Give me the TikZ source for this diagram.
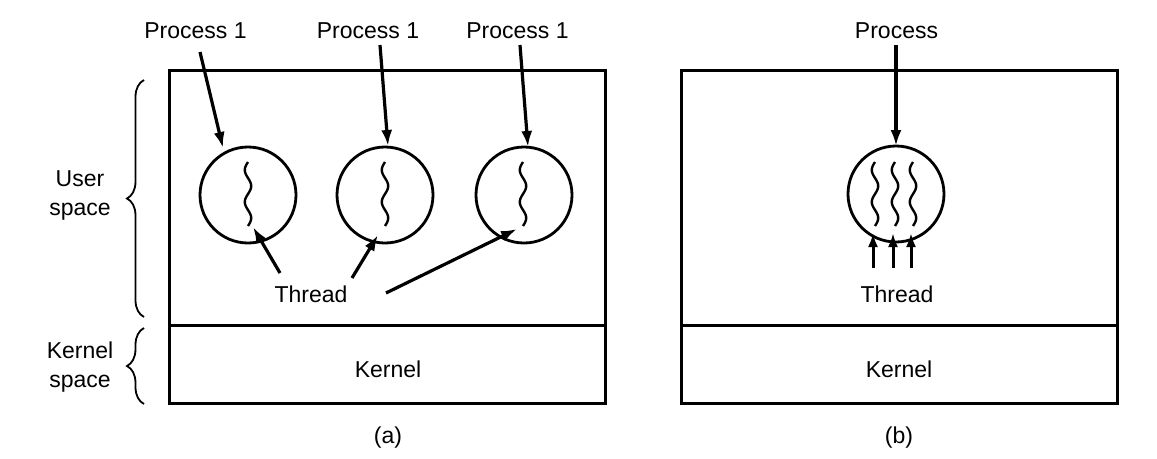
\documentclass[tikz,border=0pt]{standalone}
\usepackage{fontspec}
\setmainfont{Liberation Sans}
\usetikzlibrary{arrows.meta,decorations.pathreplacing}
\tikzset{
  box/.style={draw, line width=3pt},
  proc/.style={draw, circle, line width=2.8pt, minimum size=96pt, inner sep=0pt},
  lbl/.style={font=\fontsize{23}{27}\selectfont, inner sep=0pt, anchor=base},
  arr/.style={line width=3.2pt, -{Latex[length=16pt,width=11pt]}},
  uparr/.style={line width=3pt, -{Latex[length=14pt,width=10pt]}},
  thr/.style={line width=2.4pt},
  brc/.style={decorate, decoration={brace, amplitude=17pt}, line width=1.8pt},
}
\begin{document}
\begin{tikzpicture}[x=1pt,y=-1pt]
\useasboundingbox (0,0) rectangle (1157,458);
% boxes
\draw[box] (169,70) rectangle (605,403);
\draw[box] (169,325) -- (605,325);
\draw[box] (681,70) rectangle (1117,403);
\draw[box] (681,325) -- (1117,325);
% processes
\node[proc] (c1) at (248,195) {};
\node[proc] (c2) at (385,195) {};
\node[proc] (c3) at (524,195) {};
\node[proc] (c4) at (896,194) {};
% threads
\foreach \cx in {248,385,523} {
  \draw[thr] plot[domain=0:64, samples=60, smooth] ({\cx + 3.2*sin(\x*11.25+180)}, {162 + \x});
}
\foreach \cx in {875,895,913} {
  \draw[thr] plot[domain=0:64, samples=60, smooth] ({\cx + 3.2*sin(\x*11.25+180)}, {162 + \x});
}
% labels
\node[lbl] (p1) at (195.5,38) {Process 1};
\node[lbl] (p2) at (368,38) {Process 1};
\node[lbl] (p3) at (517.5,38) {Process 1};
\node[lbl] (p4) at (896.5,38) {Process};
\node[lbl] (t1) at (311,302) {Thread};
\node[lbl] (t2) at (897,302) {Thread};
\node[lbl] (k1) at (388,377) {Kernel};
\node[lbl] (k2) at (899,377) {Kernel};
\node[lbl] (a) at (388,443) {(a)};
\node[lbl] (b) at (899,443) {(b)};
\node[lbl] (us1) at (80,186) {User};
\node[lbl] (us2) at (80,215) {space};
\node[lbl] (ks1) at (80,358) {Kernel};
\node[lbl] (ks2) at (80,387) {space};
% arrow end points
\coordinate (e1) at (223,148);
\coordinate (e2) at (388,146);
\coordinate (e3) at (528,147);
\coordinate (e4) at (896,146);
\coordinate (s1) at (200,52);
\coordinate (s2) at (380,45);
\coordinate (s3) at (520,45);
\coordinate (s4) at (896,45);
\draw[arr] (s1) -- (e1);
\draw[arr] (s2) -- (e2);
\draw[arr] (s3) -- (e3);
\draw[arr] (s4) -- (e4);
% thread arrows (a)
\coordinate (ta1) at (280,273);
\coordinate (tb1) at (253,227);
\coordinate (ta2) at (352,278);
\coordinate (tb2) at (378,235);
\coordinate (ta3) at (386,293);
\coordinate (tb3) at (517,229);
\draw[arr] (ta1) -- (tb1);
\draw[arr] (ta2) -- (tb2);
\draw[arr] (ta3) -- (tb3);
% thread arrows (b)
\foreach \xx in {873,893,911} {
  \coordinate (u\xx) at (\xx,268);
  \coordinate (v\xx) at (\xx,233);
  \draw[uparr] (u\xx) -- (v\xx);
}
% braces
\coordinate (bu1) at (144,317);
\coordinate (bu2) at (144,80);
\coordinate (bk1) at (144,404);
\coordinate (bk2) at (144,328);
\draw[brc] (bu1) -- (bu2);
\draw[brc] (bk1) -- (bk2);
\end{tikzpicture}
\end{document}
